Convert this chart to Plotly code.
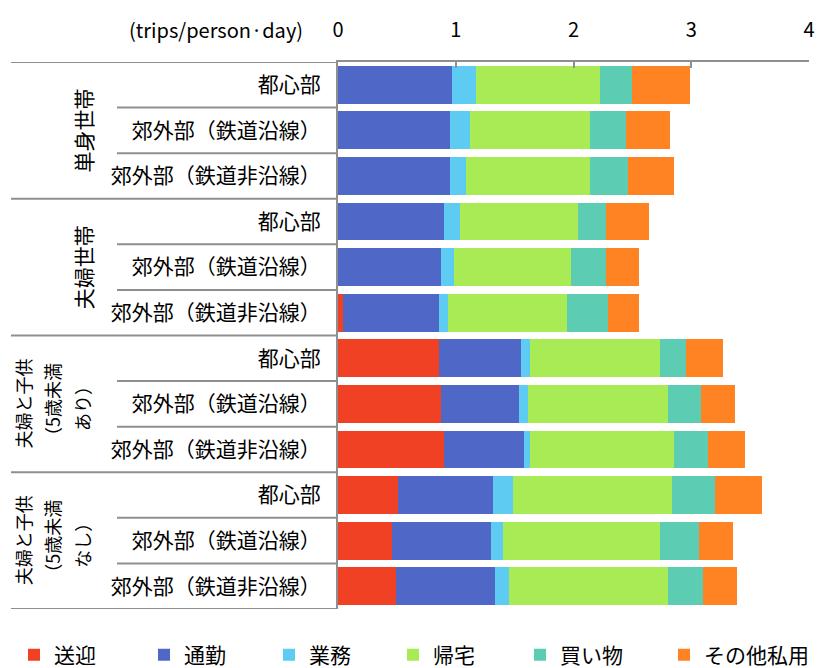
import plotly.graph_objects as go

# ---- data ----
group_lines = [["単身世帯"], ["夫婦世帯"], ["夫婦と子供", "（5歳未満", "あり）"], ["夫婦と子供", "（5歳未満", "なし）"]]
areas = ["都心部", "郊外部（鉄道沿線）", "郊外部（鉄道非沿線）"]
row_labels = [a for g in group_lines for a in areas]

series_names = ["送迎", "通勤", "業務", "帰宅", "買い物", "その他私用"]
sougei  = [0.00, 0.00, 0.00, 0.00, 0.00, 0.041, 0.860, 0.877, 0.897, 0.509, 0.458, 0.492]
tsukin  = [0.965, 0.948, 0.948, 0.897, 0.877, 0.819, 0.698, 0.664, 0.680, 0.805, 0.839, 0.839]
gyomu   = [0.207, 0.170, 0.136, 0.139, 0.108, 0.071, 0.070, 0.070, 0.051, 0.172, 0.102, 0.121]
kitaku  = [1.052, 1.018, 1.052, 0.998, 0.992, 1.012, 1.103, 1.188, 1.225, 1.347, 1.332, 1.347]
kaimono = [0.277, 0.312, 0.329, 0.243, 0.300, 0.351, 0.227, 0.281, 0.292, 0.366, 0.332, 0.298]
sonota  = [0.491, 0.368, 0.385, 0.366, 0.276, 0.259, 0.312, 0.292, 0.315, 0.402, 0.294, 0.294]
series_values = [sougei, tsukin, gyomu, kitaku, kaimono, sonota]
colors = ["#F04124", "#4F68C8", "#5ECCF2", "#A9EB54", "#5CCDB2", "#FF8322"]

x_ticks = [0, 1, 2, 3, 4]
unit_label = "(trips/person·day)"

FONT = "Noto Sans CJK JP, Noto Sans, sans-serif"
GRAY = "#8F8F8F"

# figure geometry (pixels)
W, H = 820, 668
ML, MR, MT, MB = 338, 11, 62, 59
PW, PH = W - ML - MR, H - MT - MB

def px_to_paper_x(px):
    return (px - ML) / PW

def px_to_paper_y(py):
    return (H - MB - py) / PH

ypos = list(range(len(row_labels)))
n_areas = len(areas)

fig = go.Figure()
legend_marker_px = [42, 172, 297, 421, 548, 692]
for i, (name, vals, col) in enumerate(zip(series_names, series_values, colors)):
    lg = "legend" if i == 0 else f"legend{i+1}"
    fig.add_trace(go.Bar(
        x=vals, y=ypos, orientation="h", name=name,
        marker=dict(color=col, line=dict(width=0)),
        legend=lg,
    ))

layout_legends = {}
for i, mx in enumerate(legend_marker_px):
    key = "legend" if i == 0 else f"legend{i+1}"
    layout_legends[key] = dict(
        x=px_to_paper_x(mx - 28), y=px_to_paper_y(655),
        xanchor="left", yanchor="middle",
        orientation="h", font=dict(size=21, family=FONT, color="#000"),
        bgcolor="rgba(0,0,0,0)", borderwidth=0, itemwidth=30,
    )

shapes = []
for k in range(len(row_labels) + 1):
    yb = k - 0.5
    x0 = px_to_paper_x(11) if k % n_areas == 0 else px_to_paper_x(117)
    shapes.append(dict(type="line", xref="paper", yref="y",
                       x0=x0, x1=0, y0=yb, y1=yb,
                       line=dict(color=GRAY, width=2)))

annotations = []
for gi, lines in enumerate(group_lines):
    center = gi * n_areas + (n_areas - 1) / 2
    if len(lines) == 1:
        xs, fs = [83], 21
    else:
        xs, fs = [22.5, 52, 82], 18
    for ln, xp in zip(lines, xs):
        annotations.append(dict(
            text=ln, xref="paper", yref="y",
            x=px_to_paper_x(xp), y=center,
            xanchor="center", yanchor="middle", textangle=-90,
            showarrow=False, align="center",
            font=dict(size=fs, family=FONT, color="#000"),
        ))
annotations.append(dict(
    text=unit_label, xref="paper", yref="paper",
    x=px_to_paper_x(216), y=px_to_paper_y(30),
    xanchor="center", yanchor="middle", showarrow=False,
    font=dict(size=20, family=FONT, color="#000"),
))

fig.update_layout(
    width=W, height=H,
    margin=dict(l=ML, r=MR, t=MT, b=MB, autoexpand=False),
    barmode="stack", bargap=0.17,
    plot_bgcolor="white", paper_bgcolor="white",
    font=dict(family=FONT, size=21, color="#000"),
    showlegend=True,
    xaxis=dict(
        side="top", range=[0, 4], tickvals=x_ticks,
        ticks="inside", ticklen=6, tickwidth=2, tickcolor=GRAY,
        showline=True, linecolor=GRAY, linewidth=2,
        showgrid=False, zeroline=False,
        tickfont=dict(size=20, family=FONT, color="#000"),
        ticklabelstandoff=15,
    ),
    yaxis=dict(
        range=[len(row_labels) - 0.5, -0.5],
        tickmode="array", tickvals=ypos, ticktext=row_labels,
        ticks="", showline=True, linecolor=GRAY, linewidth=2,
        showgrid=False, zeroline=False,
        tickfont=dict(size=21, family=FONT, color="#000"),
        ticklabelstandoff=11,
    ),
    shapes=shapes,
    annotations=annotations,
    **layout_legends,
)

fig.write_html("out.html")
